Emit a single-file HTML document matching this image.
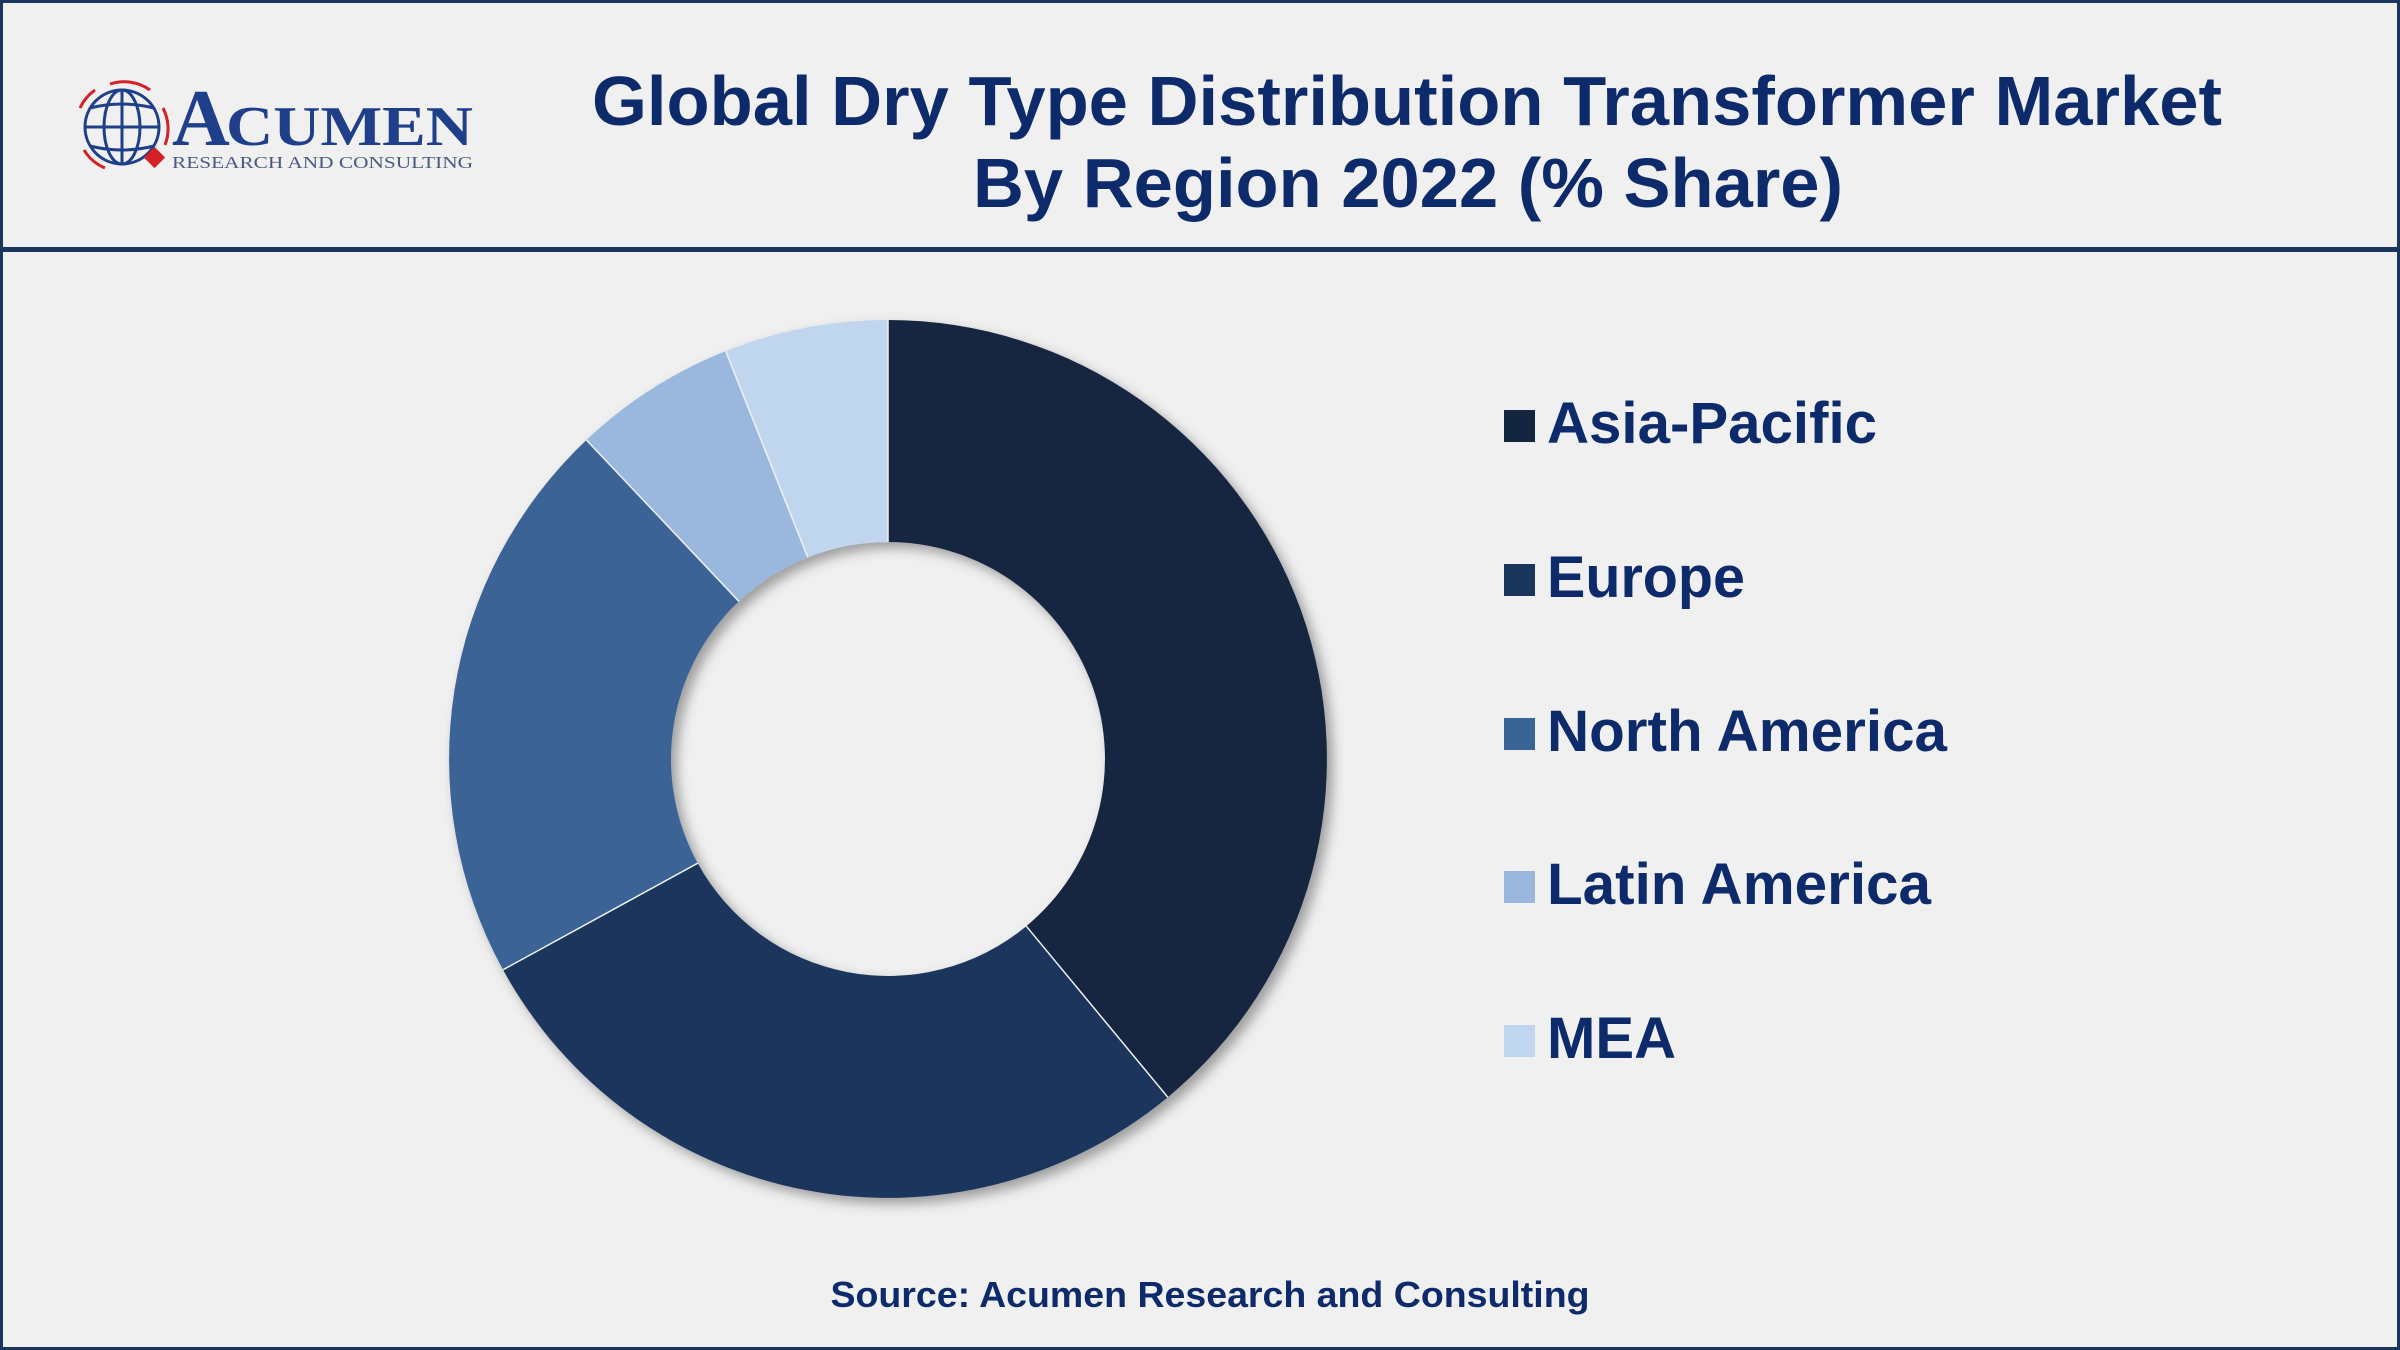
<!DOCTYPE html>
<html><head><meta charset="utf-8"><style>
html,body{margin:0;padding:0;background:#f0f0f0;}
svg{display:block;}
</style></head><body>
<svg width="2400" height="1350" viewBox="0 0 2400 1350" xmlns="http://www.w3.org/2000/svg">
<defs>
<filter id="sh" x="-20%" y="-20%" width="140%" height="140%">
<feDropShadow dx="6" dy="6" stdDeviation="6" flood-color="#000" flood-opacity="0.35"/>
</filter>
</defs>
<rect x="0" y="0" width="2400" height="1350" fill="#f0f0f0"/>
<rect x="1.5" y="1.5" width="2397" height="1347" fill="none" stroke="#1b365d" stroke-width="3"/>
<rect x="0" y="247" width="2400" height="5" fill="#1b365d"/>

<!-- logo -->
<g fill="none" stroke="#1f3f8a" stroke-width="3">
<circle cx="122" cy="127" r="37"/>
<ellipse cx="122" cy="127" rx="18" ry="37"/>
<line x1="122" y1="90" x2="122" y2="164"/>
<line x1="85" y1="127" x2="159" y2="127"/>
<path d="M90 108 Q122 100 154 108"/>
<path d="M90 146 Q122 154 154 146"/>
</g>
<g fill="none" stroke="#d42027" stroke-width="3">
<path d="M110 84 A45 45 0 0 1 150 90"/>
<path d="M163 108 A45 45 0 0 1 165 145"/>
<path d="M80 108 A45 45 0 0 1 95 90"/>
<path d="M84 150 A45 45 0 0 0 105 168"/>
</g>
<rect x="147" y="150" width="15" height="15" fill="#d42027" transform="rotate(45 154.5 157.5)"/>
<text x="172" y="145" font-family="Liberation Serif, serif" font-weight="bold" font-size="80" fill="#1f3f8a">A</text>
<text x="226" y="145" font-family="Liberation Serif, serif" font-weight="bold" font-size="56" fill="#1f3f8a" textLength="247" lengthAdjust="spacingAndGlyphs">CUMEN</text>
<text x="172" y="168" font-family="Liberation Serif, serif" font-size="17" fill="#4a5a80" textLength="301" lengthAdjust="spacingAndGlyphs">RESEARCH AND CONSULTING</text>

<!-- title -->
<g font-family="Liberation Sans, Arial, sans-serif" font-weight="bold" fill="#0d2a6b" font-size="70">
<text x="592" y="125" textLength="1630" lengthAdjust="spacingAndGlyphs">Global Dry Type Distribution Transformer Market</text>
<text x="973" y="207" textLength="870" lengthAdjust="spacingAndGlyphs">By Region 2022 (% Share)</text>
</g>

<!-- donut -->
<g filter="url(#sh)">
<path d="M888 320 A439 439 0 0 1 1167.8 1097.2 L1026.3 926.2 A217 217 0 0 0 888 542 Z" fill="#14253f"/>
<path d="M1167.8 1097.2 A439 439 0 0 1 503 969.8 L697.7 863.2 A217 217 0 0 0 1026.3 926.2 Z" fill="#1b365d"/>
<path d="M503 969.8 A439 439 0 0 1 586.4 440 L738.9 601.3 A217 217 0 0 0 697.7 863.2 Z" fill="#3a6496"/>
<path d="M586.4 440 A439 439 0 0 1 725.7 351.1 L807.8 557.4 A217 217 0 0 0 738.9 601.3 Z" fill="#9ab7de"/>
<path d="M725.7 351.1 A439 439 0 0 1 888 320 L888 542 A217 217 0 0 0 807.8 557.4 Z" fill="#c0d5ee"/>
</g>
<g stroke="#f0f0f0" stroke-width="1.5" fill="none">
<line x1="888" y1="320" x2="888" y2="542"/>
<line x1="1167.8" y1="1097.2" x2="1026.3" y2="926.2"/>
<line x1="503" y1="969.8" x2="697.7" y2="863.2"/>
<line x1="586.4" y1="440" x2="738.9" y2="601.3"/>
<line x1="725.7" y1="351.1" x2="807.8" y2="557.4"/>
</g>

<!-- legend -->
<g font-family="Liberation Sans, Arial, sans-serif" font-weight="bold" fill="#0d2a6b" font-size="58">
<rect x="1504" y="410" width="31" height="32" fill="#14253f"/>
<text x="1547" y="443" textLength="330" lengthAdjust="spacingAndGlyphs">Asia-Pacific</text>
<rect x="1504" y="564" width="31" height="32" fill="#1b365d"/>
<text x="1547" y="597" textLength="198" lengthAdjust="spacingAndGlyphs">Europe</text>
<rect x="1504" y="718" width="31" height="32" fill="#3a6496"/>
<text x="1547" y="751" textLength="400" lengthAdjust="spacingAndGlyphs">North America</text>
<rect x="1504" y="871" width="31" height="32" fill="#9ab7de"/>
<text x="1547" y="904" textLength="384" lengthAdjust="spacingAndGlyphs">Latin America</text>
<rect x="1504" y="1025" width="31" height="32" fill="#c0d5ee"/>
<text x="1547" y="1058" textLength="129" lengthAdjust="spacingAndGlyphs">MEA</text>
</g>

<text x="1210" y="1307" text-anchor="middle" font-family="Liberation Sans, Arial, sans-serif" font-weight="bold" font-size="36" fill="#0d2a6b" textLength="759" lengthAdjust="spacingAndGlyphs">Source: Acumen Research and Consulting</text>
</svg>
</body></html>
